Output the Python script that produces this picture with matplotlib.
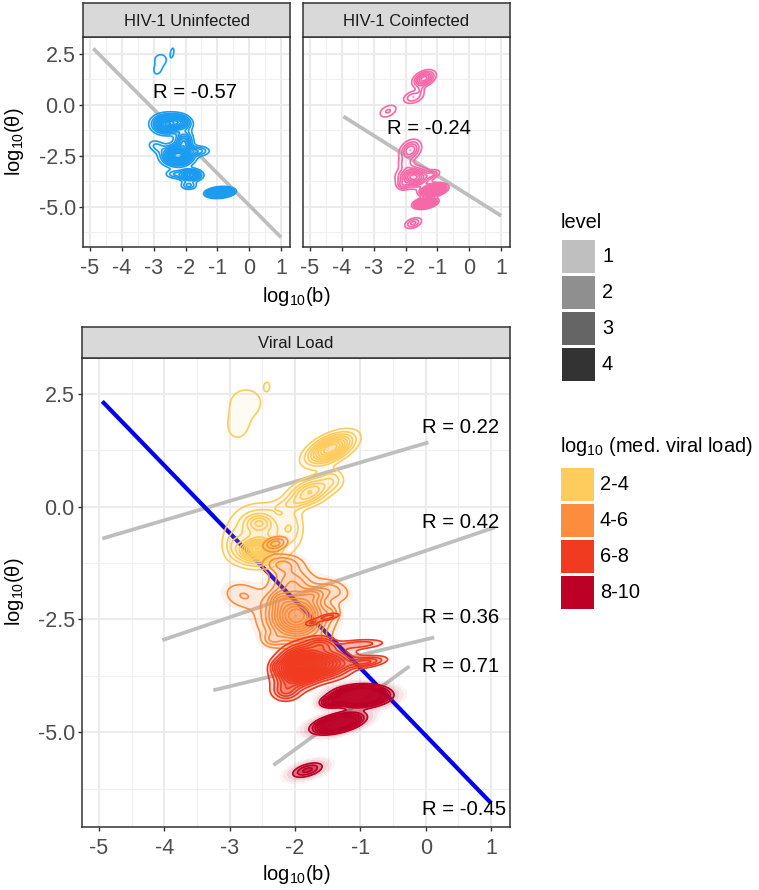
import matplotlib
matplotlib.use("Agg")
import matplotlib.pyplot as plt
import numpy as np
from matplotlib.patches import Rectangle

plt.rcParams['font.family'] = ['Liberation Sans', 'DejaVu Sans']
plt.rcParams['mathtext.fontset'] = 'custom'
plt.rcParams['mathtext.rm'] = 'Liberation Sans'
plt.rcParams['mathtext.it'] = 'Liberation Sans'
plt.rcParams['mathtext.default'] = 'regular'

W, H = 759, 890

x_ticks = [-5, -4, -3, -2, -1, 0, 1]
y_ticks = [-5.0, -2.5, 0.0, 2.5]
y_tick_labels = ['-5.0', '-2.5', '0.0', '2.5']

# density clusters: (b, theta, sd_b, sd_theta, rho, height)
uninfected_blobs = [
    (-2.78, 2.20, 0.17, 0.24, 0.0, 0.25), (-2.88, 1.70, 0.12, 0.22, 0.2, 0.22),
    (-2.42, 2.55, 0.05, 0.20, 0.4, 0.26),
    (-2.60, -0.95, 0.25, 0.26, 0.0, 1.80), (-2.15, -0.85, 0.20, 0.22, -0.2, 1.00),
    (-2.05, -1.80, 0.16, 0.32, 0.0, 1.00), (-2.90, -2.05, 0.18, 0.20, -0.3, 0.35),
    (-2.25, -2.50, 0.27, 0.28, 0.0, 2.20), (-1.60, -2.27, 0.22, 0.15, 0.0, 0.50),
    (-2.35, -3.40, 0.18, 0.13, 0.0, 0.40), (-1.85, -3.45, 0.20, 0.16, 0.0, 1.50),
    (-1.90, -3.95, 0.15, 0.13, 0.0, 0.50),
    (-0.92, -4.30, 0.19, 0.11, 0.20, 6.00),
]
coinfected_blobs = [
    (-1.42, 1.27, 0.20, 0.23, 0.4, 1.00), (-1.76, 0.36, 0.20, 0.20, 0.3, 0.45),
    (-1.52, 0.75, 0.08, 0.18, 0.0, 0.20),
    (-2.55, -0.32, 0.20, 0.23, 0.4, 0.32),
    (-1.85, -2.23, 0.20, 0.30, 0.3, 0.75), (-2.00, -2.90, 0.15, 0.20, 0.0, 0.30),
    (-1.75, -3.55, 0.28, 0.28, 0.0, 1.30), (-1.15, -3.40, 0.15, 0.14, 0.4, 0.40),
    (-2.10, -3.95, 0.12, 0.15, 0.0, 0.35),
    (-1.13, -4.18, 0.20, 0.15, 0.35, 3.20), (-1.38, -4.82, 0.18, 0.13, 0.35, 2.80),
    (-1.76, -5.80, 0.17, 0.17, 0.4, 0.50),
]
yellow_blobs = [
    (-2.75, 2.30, 0.22, 0.28, 0.0, 0.165), (-2.88, 1.75, 0.15, 0.25, 0.0, 0.14),
    (-2.43, 2.66, 0.04, 0.09, 0.0, 0.14),
    (-1.46, 1.28, 0.22, 0.21, 0.55, 1.00), (-1.77, 0.32, 0.21, 0.20, 0.45, 0.60),
    (-1.42, 0.60, 0.12, 0.16, 0.0, 0.18), (-2.10, 0.05, 0.20, 0.10, 0.5, 0.12),
    (-2.55, -0.60, 0.30, 0.40, 0.0, 0.40), (-2.58, -0.92, 0.15, 0.12, 0.1, 0.75),
    (-2.55, -0.35, 0.13, 0.12, 0.0, 0.30), (-2.05, -0.45, 0.12, 0.30, 0.0, 0.20),
    (-2.60, -1.10, 0.22, 0.15, 0.0, 0.35), (-2.95, -0.85, 0.10, 0.18, 0.0, 0.15),
]
orange_blobs = [
    (-2.30, -0.82, 0.12, 0.10, 0.3, 0.35), (-2.20, -1.27, 0.20, 0.14, 0.0, 0.30),
    (-2.80, -1.97, 0.20, 0.20, -0.2, 0.20), (-1.42, -1.85, 0.17, 0.16, -0.3, 0.22),
    (-1.98, -2.42, 0.28, 0.34, 0.0, 1.20), (-2.35, -2.95, 0.10, 0.10, 0.0, 0.20),
    (-1.60, -2.95, 0.10, 0.10, 0.0, 0.15), (-1.70, -1.95, 0.12, 0.10, 0.0, 0.25),
    (-2.25, -2.05, 0.10, 0.12, 0.0, 0.20), (-1.45, -2.35, 0.08, 0.10, 0.0, 0.15),
    (-2.05, -1.65, 0.20, 0.20, 0.0, 0.30),
]
red_blobs = [
    (-1.50, -2.45, 0.12, 0.06, 0.6, 0.40), (-1.75, -2.58, 0.07, 0.05, 0.3, 0.30),
    (-1.95, -3.55, 0.20, 0.26, 0.2, 2.00), (-1.55, -3.50, 0.26, 0.20, 0.2, 1.30),
    (-0.90, -3.44, 0.19, 0.08, 0.4, 0.60), (-1.00, -3.05, 0.24, 0.07, 0.3, 0.40),
    (-1.60, -3.05, 0.14, 0.11, 0.0, 0.50), (-2.15, -4.10, 0.13, 0.13, 0.0, 0.50),
    (-2.28, -3.55, 0.07, 0.10, 0.0, 0.25),
]
darkred_blobs = [
    (-1.45, -4.33, 0.11, 0.08, 0.2, 1.5), (-1.00, -4.20, 0.24, 0.13, 0.1, 5.0),
    (-1.34, -4.80, 0.22, 0.13, 0.5, 4.0),
    (-1.81, -5.84, 0.17, 0.12, 0.5, 1.2),
]

uninfected_line = ([-4.9, 1.0], [2.75, -6.5])
coinfected_line = ([-3.95, 1.0], [-0.58, -5.44])
load_lines = [([-4.95, 0.04], [-0.71, 1.42]), ([-4.03, 1.06], [-2.96, -0.46]),
              ([-3.25, 0.13], [-4.07, -2.90]), ([-2.33, -0.25], [-5.73, -3.54])]
overall_line = ([-4.95, 1.0], [2.33, -6.57])

uninfected_r = (-3.02, 0.60, 'R = -0.57')
coinfected_r = (-2.58, -1.15, 'R = -0.24')
load_r_x = [-0.06, -0.06, -0.06, -0.06, -0.06]
load_r_y = [1.75, -0.35, -2.46, -3.54, -6.71]
load_r_labels = ['R = 0.22', 'R = 0.42', 'R = 0.36', 'R = 0.71', 'R = -0.45']

level_labels = ['1', '2', '3', '4']
level_colors = ['#bfbfbf', '#8f8f8f', '#656565', '#333333']
load_labels = ['2-4', '4-6', '6-8', '8-10']
load_colors = ['#fecc5c', '#fd8d3c', '#f03b20', '#bd0026']
blue = '#1a9cf2'
pink = '#f768a8'
gray_line = '#bebebe'


def density(xx, yy, blobs):
    z = np.zeros_like(xx)
    for b, theta, sb, st, rho, h in blobs:
        dx = (xx - b) / sb
        dy = (yy - theta) / st
        z += h * np.exp(-(dx ** 2 - 2 * rho * dx * dy + dy ** 2) / (2 * (1 - rho ** 2)))
    return z


def draw_density(ax, blobs, color, levels, fill_alpha, halo=None, lw=1.2):
    xs = np.linspace(-5.3, 1.3, 600)
    ys = np.linspace(-7.2, 3.4, 800)
    xx, yy = np.meshgrid(xs, ys)
    z = density(xx, yy, blobs)
    top = z.max() + 1
    if halo is not None:
        for lev, a in halo:
            ax.contourf(xx, yy, z, levels=[lev, top], colors=[color], alpha=a, zorder=3)
    for lev in levels:
        if lev < z.max():
            ax.contourf(xx, yy, z, levels=[lev, top], colors=[color], alpha=fill_alpha, zorder=3)
    ax.contour(xx, yy, z, levels=[l for l in levels if l < z.max()], colors=[color],
               linewidths=lw, zorder=3.1)


def style_panel(ax, title, y_labels=True, title_size=12):
    ax.set_xlim(-5.22, 1.28)
    ax.set_xticks(x_ticks)
    ax.set_xticklabels([str(t) for t in x_ticks])
    ax.set_yticks(y_ticks)
    ax.set_yticklabels(y_tick_labels if y_labels else [])
    ax.set_xticks(np.arange(-4.5, 1, 1), minor=True)
    ax.set_yticks([-6.25, -3.75, -1.25, 1.25], minor=True)
    ax.grid(which='major', color='#ebebeb', lw=1.4)
    ax.grid(which='minor', color='#f0f0f0', lw=0.8)
    ax.set_axisbelow(True)
    ax.tick_params(which='minor', length=0)
    ax.tick_params(which='major', length=3.2, width=1, color='#333333', labelcolor='#4d4d4d',
                   labelsize=15.5, pad=2)
    ax.tick_params(axis='x', which='major', pad=5)
    if not y_labels:
        ax.tick_params(axis='y', length=0)
    for s in ax.spines.values():
        s.set_color('#333333')
        s.set_linewidth(1.1)
    # facet strip sits straight on top of the panel
    strip = ax.inset_axes([0, 1, 1, 0.16 if ax.get_position().height < 0.3 else 0.0665])
    strip.set_xticks([])
    strip.set_yticks([])
    strip.set_facecolor('#d9d9d9')
    for s in strip.spines.values():
        s.set_color('#333333')
        s.set_linewidth(1.1)
    strip.text(0.5, 0.47, title, transform=strip.transAxes, ha='center', va='center',
               fontsize=title_size, color='#1a1a1a')


def panel_axes(left, top, right, bottom):
    return fig.add_axes([left / W, 1 - bottom / H, (right - left) / W, (bottom - top) / H])


fig = plt.figure(figsize=(W / 100, H / 100), dpi=100)

ax1 = panel_axes(83, 37, 290, 247)
ax2 = panel_axes(303, 37, 510, 247)
ax3 = panel_axes(82, 358, 510, 827)

style_panel(ax1, 'HIV-1 Uninfected')
style_panel(ax2, 'HIV-1 Coinfected', y_labels=False)
style_panel(ax3, 'Viral Load')
ax1.set_ylim(-6.97, 3.31)
ax2.set_ylim(-6.97, 3.31)
ax3.set_ylim(-7.1, 3.29)
ax3.set_xlim(-5.26, 1.29)

line_w = 2.7
ax1.plot(*uninfected_line, color=gray_line, lw=line_w, solid_capstyle='butt', zorder=2)
ax2.plot(*coinfected_line, color=gray_line, lw=line_w, solid_capstyle='butt', zorder=2)
for lx, ly in load_lines:
    ax3.plot(lx, ly, color=gray_line, lw=line_w, solid_capstyle='butt', zorder=2)
ax3.plot(*overall_line, color='#0000f0', lw=3.0, solid_capstyle='butt', zorder=2.5)

top_levels = np.arange(0.15, 6.0, 0.15)
draw_density(ax1, uninfected_blobs, blue, top_levels, 0.03)
draw_density(ax2, coinfected_blobs, pink, top_levels, 0.03)

yellow_levels = np.arange(0.1, 1.3, 0.1)
orange_levels = np.arange(0.1, 1.5, 0.1)
red_levels = np.arange(0.15, 3.0, 0.15)
darkred_levels = [0.5, 0.8, 1.1, 1.4, 1.8, 2.2]
draw_density(ax3, yellow_blobs, load_colors[0], yellow_levels, 0.07)
draw_density(ax3, orange_blobs, load_colors[1], orange_levels, 0.09,
             halo=[(0.05, 0.10)])
draw_density(ax3, red_blobs, load_colors[2], red_levels, 0.20)
draw_density(ax3, darkred_blobs, load_colors[3], darkred_levels, 0.40,
             halo=[(0.06, 0.04), (0.12, 0.06), (0.25, 0.08)])

r_size = 14.6
ax1.text(uninfected_r[0], uninfected_r[1], uninfected_r[2], fontsize=r_size, va='center', zorder=5)
ax2.text(coinfected_r[0], coinfected_r[1], coinfected_r[2], fontsize=r_size, va='center', zorder=5)
for rx, ry, rl in zip(load_r_x, load_r_y, load_r_labels):
    ax3.text(rx, ry, rl, fontsize=r_size, va='center', zorder=5)

# overlay in pixel coordinates for shared labels and the two legends
over = fig.add_axes([0, 0, 1, 1], facecolor='none')
over.set_xlim(0, W)
over.set_ylim(H, 0)
over.axis('off')

b_label = r'$\mathregular{log_{10}(b)}$'
t_label = r'$\mathregular{log_{10}(θ)}$'
label_size = 14.5
over.text(296, 296, b_label, ha='center', va='center', fontsize=label_size)
over.text(296, 874, b_label, ha='center', va='center', fontsize=label_size)
over.text(15, 142, t_label, ha='center', va='center', rotation=90, fontsize=label_size)
over.text(15, 592, t_label, ha='center', va='center', rotation=90, fontsize=label_size)

legend_size = 14.4
over.text(561, 223, 'level', va='center', fontsize=legend_size)
for i, (lab, col) in enumerate(zip(level_labels, level_colors)):
    y0 = 240 + 36 * i
    over.add_patch(Rectangle((562, y0), 33, 33, facecolor=col, edgecolor='none'))
    over.text(602, y0 + 17, lab, va='center', fontsize=legend_size)

over.text(560, 446, r'$log_{10}$ (med. viral load)', va='center', fontsize=legend_size)
for i, (lab, col) in enumerate(zip(load_labels, load_colors)):
    y0 = 468 + 36 * i
    over.add_patch(Rectangle((561, y0), 33, 33, facecolor=col, edgecolor='none'))
    over.text(600, y0 + 17, lab, va='center', fontsize=legend_size)

fig.savefig('out.png', dpi=100)
